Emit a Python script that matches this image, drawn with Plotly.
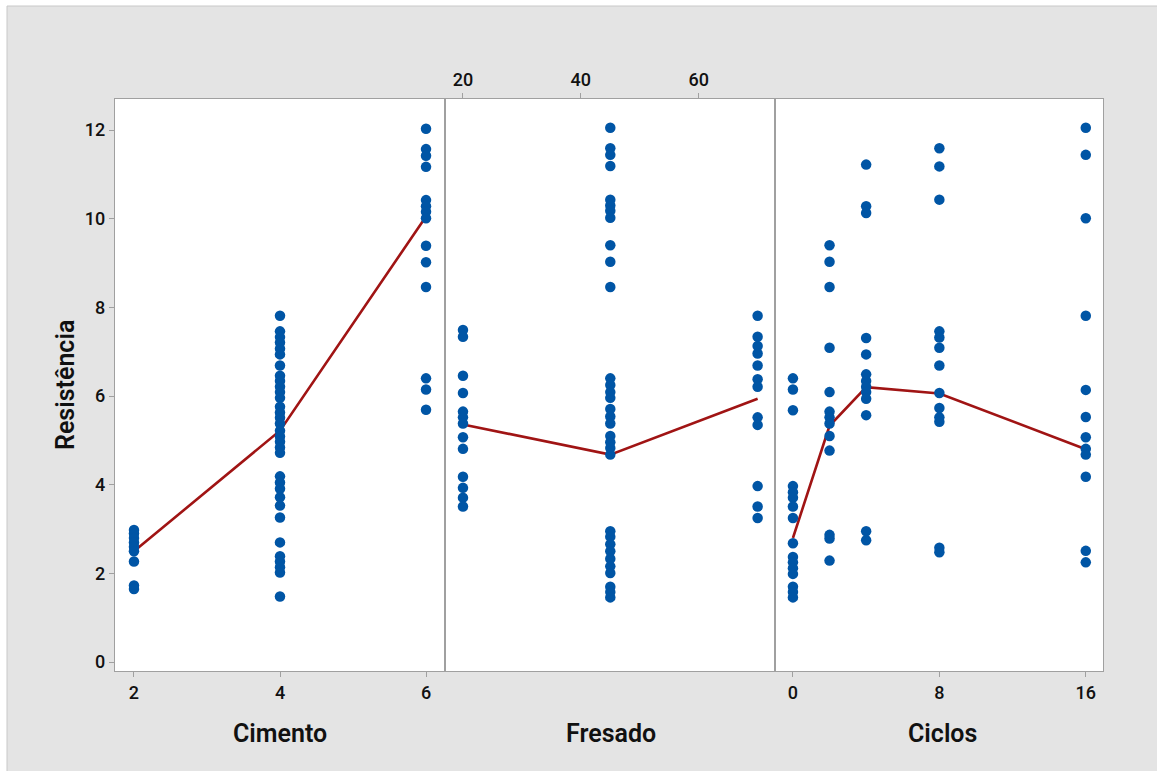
import plotly.graph_objects as go
from plotly.subplots import make_subplots

# Observed strength values grouped by factor level
cimento_levels = [2, 4, 6]
cimento_values = [
    [2.98, 2.9, 2.8, 2.7, 2.6, 2.5, 2.27, 1.73, 1.65],
    [7.81, 7.46, 7.33, 7.21, 7.07, 6.94, 6.69, 6.46, 6.34, 6.21, 6.09, 5.96,
     5.76, 5.63, 5.51, 5.38, 5.22, 5.09, 4.97, 4.84, 4.72, 4.19, 4.05, 3.91,
     3.72, 3.53, 3.26, 2.70, 2.39, 2.27, 2.14, 2.02, 1.48],
    [12.03, 11.57, 11.42, 11.17, 10.42, 10.28, 10.16, 10.01, 9.39, 9.02, 8.46,
     6.40, 6.15, 5.69],
]
cimento_means = [2.5, 5.22, 10.05]

fresado_levels = [20, 45, 70]
fresado_values = [
    [7.49, 7.34, 6.46, 6.07, 5.65, 5.52, 5.38, 5.07, 4.81, 4.18, 3.93, 3.71, 3.51],
    [12.05, 11.59, 11.44, 11.19, 10.43, 10.3, 10.18, 10.02, 9.40, 9.03, 8.46,
     6.40, 6.25, 6.09, 5.96, 5.71, 5.54, 5.38, 5.10, 4.96, 4.83, 4.68,
     2.95, 2.83, 2.66, 2.50, 2.33, 2.16, 2.01, 1.70, 1.58, 1.46],
    [7.81, 7.34, 7.13, 6.96, 6.69, 6.38, 6.21, 5.52, 5.35, 3.97, 3.51, 3.25],
]
fresado_means = [5.36, 4.68, 5.94]

ciclos_levels = [0, 2, 4, 8, 16]
ciclos_values = [
    [6.40, 6.15, 5.68, 3.97, 3.83, 3.71, 3.51, 3.25, 2.68, 2.37, 2.25, 2.12,
     1.99, 1.70, 1.58, 1.46],
    [9.40, 9.03, 8.46, 7.09, 6.09, 5.65, 5.52, 5.38, 5.10, 4.77, 2.87, 2.79, 2.29],
    [11.22, 10.28, 10.13, 7.31, 6.94, 6.49, 6.34, 6.21, 6.09, 5.94, 5.57, 2.95, 2.75],
    [11.59, 11.18, 10.43, 7.46, 7.32, 7.09, 6.69, 6.07, 5.73, 5.52, 5.42, 2.58, 2.48],
    [12.05, 11.44, 10.01, 7.81, 6.14, 5.53, 5.07, 4.81, 4.68, 4.18, 2.51, 2.25],
]
ciclos_means = [2.8, 5.33, 6.2, 6.06, 4.8]

y_ticks = [0, 2, 4, 6, 8, 10, 12]

POINT = "#0055A5"
MEAN = "#A01414"
FRAME = "#A0A0A0"
FONT = "Roboto"

fig = make_subplots(rows=1, cols=3, horizontal_spacing=0)

panels = [
    (cimento_levels, cimento_values, cimento_means),
    (fresado_levels, fresado_values, fresado_means),
    (ciclos_levels, ciclos_values, ciclos_means),
]
for col, (levels, values, means) in enumerate(panels, start=1):
    xs, ys = [], []
    for lv, vals in zip(levels, values):
        xs += [lv] * len(vals)
        ys += vals
    fig.add_trace(go.Scatter(x=levels, y=means, mode="lines",
                             line=dict(color=MEAN, width=2.6),
                             showlegend=False, hoverinfo="skip"),
                  row=1, col=col)
    fig.add_trace(go.Scatter(x=xs, y=ys, mode="markers",
                             marker=dict(color=POINT, size=10.5, line=dict(width=0)),
                             showlegend=False),
                  row=1, col=col)

W, H = 1157, 771
L, R, T, B = 115, 54, 99, 100
pw, ph = W - L - R, H - T - B
split1 = (445 - L) / pw
split2 = (775 - L) / pw

tick_font = dict(family=FONT, size=18, color="#111111", weight=500)
axis_common = dict(showline=True, linecolor=FRAME, linewidth=1.3, mirror=True,
                   showgrid=False, zeroline=False, ticks="outside", ticklen=5,
                   tickcolor=FRAME, tickwidth=1, tickfont=tick_font)
y_inner = {k: v for k, v in axis_common.items() if k != "ticks"}

fig.update_layout(
    xaxis=dict(domain=[0, split1], range=[1.74, 6.26], tickvals=cimento_levels, **axis_common),
    xaxis2=dict(domain=[split1, split2], range=[16.95, 72.95], tickvals=[20, 40, 60],
                side="top", **axis_common),
    xaxis3=dict(domain=[split2, 1], range=[-0.98, 16.94], tickvals=[0, 8, 16], **axis_common),
    yaxis=dict(range=[-0.2, 12.7], tickvals=y_ticks, **axis_common),
    yaxis2=dict(range=[-0.2, 12.7], tickvals=y_ticks, showticklabels=False, ticks="", **y_inner),
    yaxis3=dict(range=[-0.2, 12.7], tickvals=y_ticks, showticklabels=False, ticks="", **y_inner),
)

def px_x(p):
    return (p - L) / pw

def px_y(p):
    return (H - B - p) / ph

title_font = dict(family=FONT, size=25, color="#111111", weight=600)
annotations = [
    dict(text="Cimento", x=px_x(280), y=px_y(733)),
    dict(text="Fresado", x=px_x(611), y=px_y(733)),
    dict(text="Ciclos", x=px_x(942), y=px_y(733)),
    dict(text="Resistência", x=px_x(65), y=px_y(385), textangle=-90),
]
for a in annotations:
    a.update(xref="paper", yref="paper", showarrow=False, font=title_font,
             xanchor="center", yanchor="middle")

shapes = [
    dict(type="rect", xref="paper", yref="paper", x0=px_x(-5), x1=px_x(7),
         y0=px_y(H + 5), y1=px_y(-5), fillcolor="white", line=dict(width=0), layer="below"),
    dict(type="rect", xref="paper", yref="paper", x0=px_x(-5), x1=px_x(W + 5),
         y0=px_y(6), y1=px_y(-5), fillcolor="white", line=dict(width=0), layer="below"),
    dict(type="line", xref="paper", yref="paper", x0=px_x(7), x1=px_x(7),
         y0=px_y(6), y1=px_y(H + 5), line=dict(color="#C8C8C8", width=1), layer="below"),
    dict(type="line", xref="paper", yref="paper", x0=px_x(7), x1=px_x(W + 5),
         y0=px_y(6), y1=px_y(6), line=dict(color="#C8C8C8", width=1), layer="below"),
]

fig.update_layout(
    width=W, height=H,
    margin=dict(l=L, r=R, t=T, b=B),
    paper_bgcolor="#E4E4E4",
    plot_bgcolor="white",
    font=dict(family=FONT),
    annotations=annotations,
    shapes=shapes,
)

fig.write_html("out.html")
